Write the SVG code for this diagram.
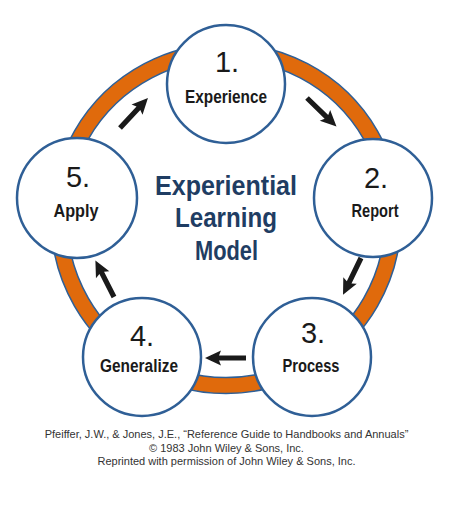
<svg xmlns="http://www.w3.org/2000/svg" xmlns:xlink="http://www.w3.org/1999/xlink" width="457" height="512" viewBox="0 0 457 512">
<style>
.ring{fill:#E06A0C;stroke:#2E5F96;stroke-width:1.5;fill-rule:evenodd}
.node{fill:#fff;stroke:#2F5F96;stroke-width:2.5}
.num{font-family:"Liberation Sans",Arial,sans-serif;font-size:29px;fill:#1a1a1a;text-anchor:middle}
.lbl{font-family:"Liberation Sans",Arial,sans-serif;font-weight:bold;font-size:18px;fill:#1a1a1a;text-anchor:middle}
.title{font-family:"Liberation Sans",Arial,sans-serif;font-weight:bold;font-size:28px;fill:#1F3D63;text-anchor:middle}
.foot{font-family:"Liberation Sans",Arial,sans-serif;font-size:11px;fill:#333;text-anchor:middle}
.arr{fill:#1a1a1a}
</style>
<defs>
<path id="arrow" d="M0,-2.6 L27,-2.6 L25,-7.5 L41,0 L25,7.5 L27,2.6 L0,2.6 Z"/>
</defs>
<rect width="457" height="512" fill="#fff"/>
<path class="ring" d="M226,43.5 A175,175 0 1 1 225.99,43.5 Z M226,59.5 A159,159 0 1 0 226.01,59.5 Z"/>
<g id="connectors" class="arr">
<use xlink:href="#arrow" transform="translate(120,128) rotate(-47)"/>
<use xlink:href="#arrow" transform="translate(307,98) rotate(44)"/>
<use xlink:href="#arrow" transform="translate(361,258) rotate(116)"/>
<use xlink:href="#arrow" transform="translate(246,358) rotate(180)"/>
<use xlink:href="#arrow" transform="translate(114,297) rotate(-117)"/>
</g>
<g id="node1">
<circle class="node" cx="226" cy="84" r="59"/>
<text class="num" x="227" y="72">1.</text>
<text class="lbl" x="226" y="103" textLength="82" lengthAdjust="spacingAndGlyphs">Experience</text>
</g>
<g id="node2">
<circle class="node" cx="373" cy="198" r="59"/>
<text class="num" x="376" y="188">2.</text>
<text class="lbl" x="375" y="217" textLength="47" lengthAdjust="spacingAndGlyphs">Report</text>
</g>
<g id="node3">
<circle class="node" cx="312" cy="357" r="59"/>
<text class="num" x="313" y="343">3.</text>
<text class="lbl" x="311" y="372" textLength="57" lengthAdjust="spacingAndGlyphs">Process</text>
</g>
<g id="node4">
<circle class="node" cx="142" cy="357" r="59"/>
<text class="num" x="142" y="346">4.</text>
<text class="lbl" x="139" y="372" textLength="78" lengthAdjust="spacingAndGlyphs">Generalize</text>
</g>
<g id="node5">
<circle class="node" cx="77" cy="198" r="60"/>
<text class="num" x="78" y="187">5.</text>
<text class="lbl" x="76" y="217" textLength="45" lengthAdjust="spacingAndGlyphs">Apply</text>
</g>
<g id="title">
<text class="title" x="226" y="195" textLength="142" lengthAdjust="spacingAndGlyphs">Experiential</text>
<text class="title" x="226" y="227" textLength="102" lengthAdjust="spacingAndGlyphs">Learning</text>
<text class="title" x="226.5" y="260" textLength="63" lengthAdjust="spacingAndGlyphs">Model</text>
</g>
<g id="footer">
<text class="foot" x="226.5" y="438">Pfeiffer, J.W., &amp; Jones, J.E., “Reference Guide to Handbooks and Annuals”</text>
<text class="foot" x="226.5" y="452">© 1983 John Wiley &amp; Sons, Inc.</text>
<text class="foot" x="226.5" y="465">Reprinted with permission of John Wiley &amp; Sons, Inc.</text>
</g>
</svg>
